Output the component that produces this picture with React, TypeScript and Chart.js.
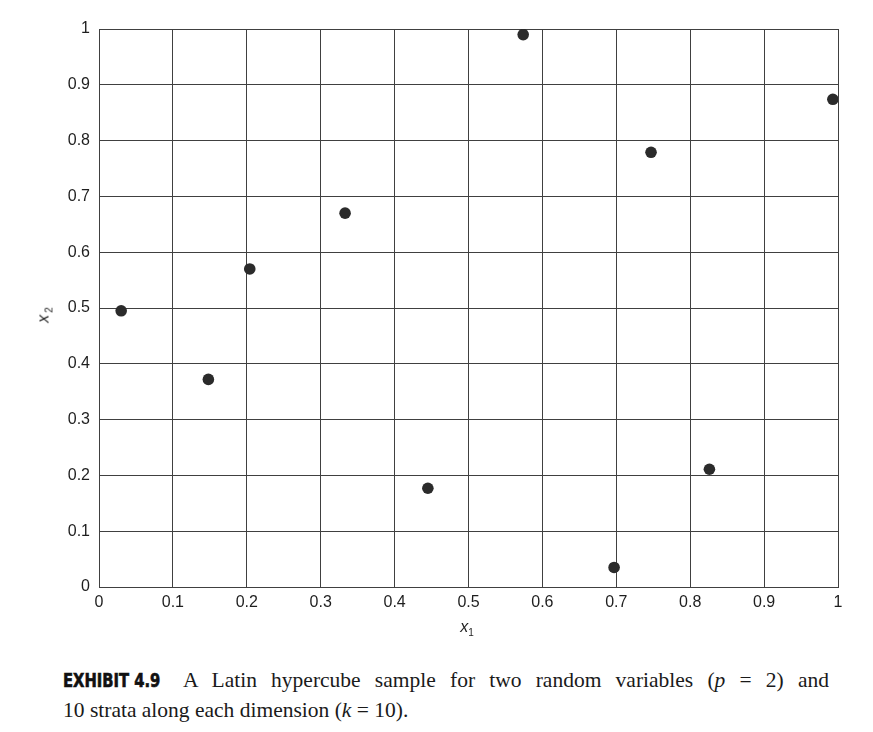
import React, { useEffect, useRef } from "react";
import { Chart, registerables } from "chart.js";

Chart.register(...registerables);

// Latin hypercube sample points (x1, x2)
const x1Values = [0.030, 0.148, 0.204, 0.333, 0.445, 0.574, 0.697, 0.747, 0.826, 0.993];
const x2Values = [0.495, 0.372, 0.570, 0.670, 0.177, 0.990, 0.035, 0.779, 0.211, 0.874];

const tickLabels = ["0", "0.1", "0.2", "0.3", "0.4", "0.5", "0.6", "0.7", "0.8", "0.9", "1"];

const xTitle = "x";
const xTitleSub = "1";
const yTitle = "x";
const yTitleSub = "2";

const captionLabel = "EXHIBIT 4.9";

const GRID = "#404040";
const TICK_FONT = { family: "'Liberation Sans', Arial, sans-serif", size: 16 };

function labelFor(v: number): string {
  const i = Math.round(v * 10);
  return tickLabels[i] ?? "";
}

export default function App() {
  const canvasRef = useRef<HTMLCanvasElement | null>(null);

  useEffect(() => {
    const ctx = canvasRef.current;
    if (!ctx) return;
    const points = x1Values.map((x, i) => ({ x, y: x2Values[i] }));
    const chart = new Chart(ctx, {
      type: "scatter",
      data: {
        datasets: [
          {
            data: points,
            backgroundColor: "#2b2b2b",
            borderColor: "#2b2b2b",
            pointRadius: 5.8,
            pointHoverRadius: 5.8,
            borderWidth: 0,
          },
        ],
      },
      options: {
        animation: false,
        responsive: false,
        maintainAspectRatio: false,
        layout: { padding: { left: 0, top: 29, right: 35, bottom: 0 } },
        plugins: {
          legend: { display: false },
          tooltip: { enabled: false },
          title: { display: false },
        },
        scales: {
          x: {
            type: "linear",
            min: 0,
            max: 1,
            afterFit: (scale: any) => {
              scale.height = 63;
            },
            ticks: {
              stepSize: 0.1,
              padding: 6,
              color: "#1e1e1e",
              font: TICK_FONT,
              maxRotation: 0,
              autoSkip: false,
              callback: (v: any) => labelFor(Number(v)),
            },
            grid: { color: GRID, lineWidth: 1, drawTicks: false },
            border: { color: GRID, width: 1 },
          },
          y: {
            type: "linear",
            min: 0,
            max: 1,
            afterFit: (scale: any) => {
              scale.width = 99;
            },
            ticks: {
              stepSize: 0.1,
              padding: 9,
              color: "#1e1e1e",
              font: TICK_FONT,
              autoSkip: false,
              callback: (v: any) => labelFor(Number(v)),
            },
            grid: { color: GRID, lineWidth: 1, drawTicks: false },
            border: { color: GRID, width: 1 },
          },
        },
      },
    });
    return () => chart.destroy();
  }, []);

  const serif = "'Liberation Serif', 'Times New Roman', serif";
  const captionText: React.CSSProperties = {
    position: "absolute",
    fontFamily: serif,
    fontSize: 21.5,
    color: "#1a1a1a",
    lineHeight: "30px",
    whiteSpace: "nowrap",
  };

  return (
    <div style={{ position: "absolute", left: 0, top: 0, width: 873, height: 732, background: "#fff" }}>
      <canvas ref={canvasRef} width={873} height={650} style={{ position: "absolute", left: 0, top: 0, width: 873, height: 650 }} />
      <div
        style={{
          position: "absolute",
          left: 467,
          top: 628,
          transform: "translate(-50%, -50%)",
          fontFamily: "'Liberation Sans', Arial, sans-serif",
          fontSize: 16,
          fontStyle: "italic",
          color: "#1e1e1e",
          whiteSpace: "nowrap",
          lineHeight: 1,
        }}
      >
        {xTitle}
        <span style={{ fontSize: 10, fontStyle: "normal", verticalAlign: -4 }}>{xTitleSub}</span>
      </div>
      <div
        style={{
          position: "absolute",
          left: 45,
          top: 315,
          transform: "translate(-50%, -50%) rotate(-90deg)",
          fontFamily: "'Liberation Sans', Arial, sans-serif",
          fontSize: 16,
          fontStyle: "italic",
          color: "#1e1e1e",
          whiteSpace: "nowrap",
          lineHeight: 1,
        }}
      >
        {yTitle}
        <span style={{ fontSize: 10, fontStyle: "normal", verticalAlign: -4, marginLeft: 2 }}>{yTitleSub}</span>
      </div>
      <div
        style={{
          position: "absolute",
          left: 63,
          top: 665,
          height: 30,
          lineHeight: "30px",
          whiteSpace: "nowrap",
          fontFamily: "'DejaVu Sans Condensed', 'Liberation Sans', sans-serif",
          fontWeight: "bold",
          fontSize: 20,
          color: "#111",
          transform: "scaleX(0.82)",
          transformOrigin: "left center",
          WebkitTextStroke: "0.6px #111",
        }}
      >
        {captionLabel}
      </div>
      <div
        style={{
          ...captionText,
          left: 183,
          top: 665,
          width: 646,
          textAlign: "justify",
          textAlignLast: "justify",
        }}
      >
        A Latin hypercube sample for two random variables (<i>p</i> = 2) and
      </div>
      <div style={{ ...captionText, left: 63, top: 695 }}>
        10 strata along each dimension (<i>k</i> = 10).
      </div>
    </div>
  );
}
